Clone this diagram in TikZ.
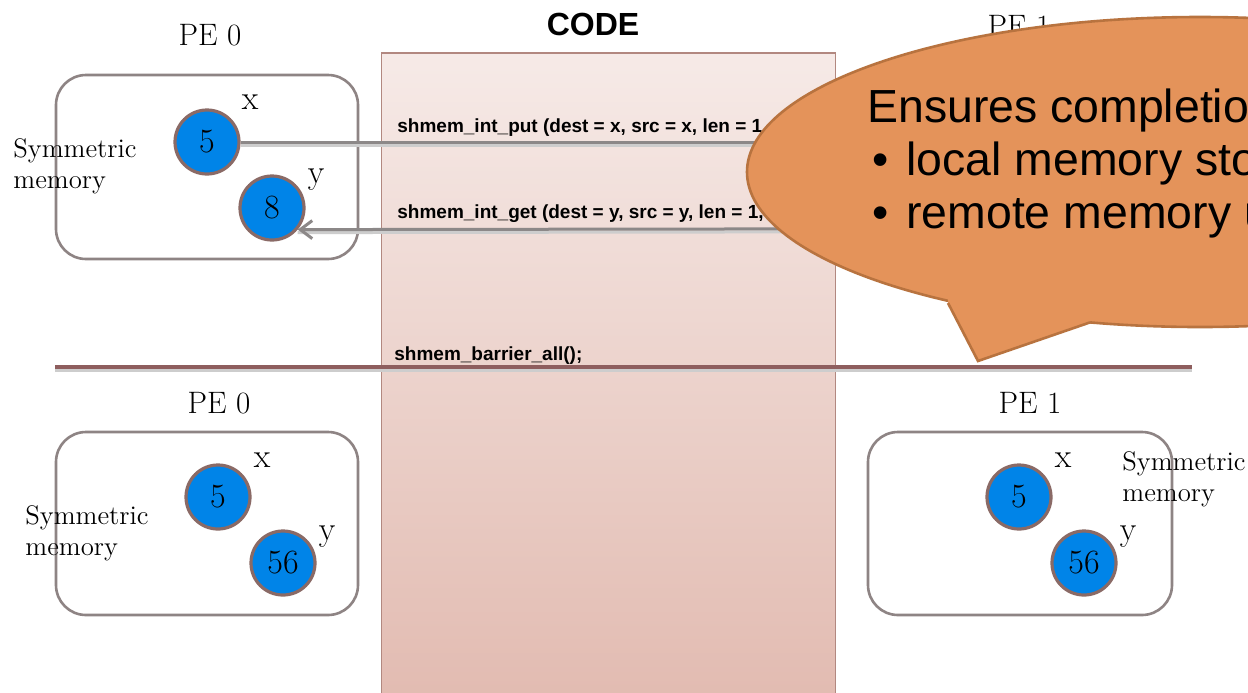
\documentclass[tikz,border=0pt]{standalone}
\usepackage{fontspec}
\setsansfont{Liberation Sans}
\usetikzlibrary{arrows.meta}
\definecolor{pblue}{RGB}{0,132,232}
\definecolor{varborder}{RGB}{138,106,102}
\definecolor{boxgray}{RGB}{142,132,132}
\definecolor{calfill}{RGB}{228,147,90}
\definecolor{calborder}{RGB}{184,115,63}
\definecolor{codetop}{RGB}{246,234,231}
\definecolor{codebot}{RGB}{226,187,177}
\definecolor{codeborder}{RGB}{178,136,128}
\definecolor{linkgray}{RGB}{140,136,136}
\definecolor{shadowgray}{RGB}{205,205,205}
\definecolor{barriercol}{RGB}{142,94,94}
\begin{document}
\begin{tikzpicture}[x=0.5pt,y=-0.5pt,
  membox/.style={draw=boxgray,line width=1.3pt,rounded corners=15pt,minimum width=151pt,minimum height=92pt,inner sep=0pt},
  var/.style={circle,draw=varborder,fill=pblue,line width=1.6pt,minimum size=32pt,inner sep=0pt,font=\fontsize{17}{18}\selectfont},
  vname/.style={font=\fontsize{17}{18}\selectfont,inner sep=0pt},
  pelabel/.style={font=\fontsize{15.5}{18}\selectfont,inner sep=0pt},
  symlabel/.style={font=\fontsize{13.4}{15.5}\selectfont,align=left,inner sep=0pt,anchor=west},
  codetext/.style={font=\sffamily\bfseries\fontsize{9.5}{11}\selectfont,inner sep=0pt,anchor=base west},
  link/.style={draw=linkgray,line width=1.5pt},
  linkshadow/.style={draw=shadowgray,line width=1.5pt,transform canvas={yshift=-1.5pt}},
  barrier/.style={draw=barriercol,line width=2pt},
  caltext/.style={font=\sffamily\fontsize{23.2}{26}\selectfont,inner sep=0pt,anchor=base west}]
\useasboundingbox (0,0) rectangle (1248,692);
\clip (0,0) rectangle (1248,692);
\fill[white] (0,0) rectangle (1248,692);

% code column
\node[draw=codeborder,line width=0.8pt,top color=codetop,bottom color=codebot,minimum width=227pt,minimum height=324pt,inner sep=0pt] (code) at (608.5,377) {};
\node[font=\sffamily\bfseries\fontsize{16}{18}\selectfont,inner sep=0pt] (codetitle) at (593,24) {CODE};
\node[codetext] (put) at (397,132) {shmem\_int\_put (dest = x, src = x, len = 1};
\node[codetext] (get) at (397,218) {shmem\_int\_get (dest = y, src = y, len = 1, p};
\node[codetext] (bar) at (394,360) {shmem\_barrier\_all();};

% top PE 0
\node[pelabel] (pe0t) at (210,35) {PE 0};
\node[membox] (box0t) at (207,167) {};
\node[symlabel] (sym0t) at (13,166) {Symmetric\\memory};
\node[var] (x0t) at (207,142) {5};
\node[vname] (xl0t) at (250,102) {x};
\node[var] (y0t) at (272,208) {8};
\node[vname] (yl0t) at (316,180) {y};

% top PE 1 (mostly hidden)
\node[pelabel] (pe1t) at (1019,26) {PE 1};

% connectors
\coordinate (putend) at (1000,142);
\coordinate (getstart) at (1000,228.6);
\draw[linkshadow] (x0t.east) -- (putend);
\draw[link] (x0t.east) -- (putend);
\draw[linkshadow] (getstart) -- (y0t.-40);
\draw[link,-{Straight Barb[length=6pt,width=9pt,line width=1.5pt]}] (getstart) -- (y0t.-40);

% barrier line
\coordinate (bl) at (55,367);
\coordinate (br) at (1192,367);
\draw[draw=shadowgray,line width=2pt,transform canvas={yshift=-1.5pt}] (bl) -- (br);
\draw[barrier] (bl) -- (br);

% bottom PE 0
\node[pelabel] (pe0b) at (219,403) {PE 0};
\node[membox,minimum height=91.5pt] (box0b) at (207,523.5) {};
\node[symlabel] (sym0b) at (25,533) {Symmetric\\memory};
\node[var] (x0b) at (218,497) {5};
\node[vname] (xl0b) at (262,460) {x};
\node[var] (y0b) at (283,563) {56};
\node[vname] (yl0b) at (327,537) {y};

% bottom PE 1
\node[pelabel] (pe1b) at (1030,403) {PE 1};
\node[membox,minimum width=152pt,minimum height=91.5pt] (box1b) at (1020,523.5) {};
\node[var] (x1b) at (1019,497) {5};
\node[vname] (xl1b) at (1063,460) {x};
\node[var] (y1b) at (1084,563) {56};
\node[vname] (yl1b) at (1128,537) {y};
\node[symlabel] (sym1b) at (1122,479) {Symmetric\\memory};

% callout
\draw[fill=calfill,draw=calborder,line width=1.3pt] (1200,172) ellipse [x radius=226.5pt, y radius=77.5pt];
\fill[calfill] (948,303) -- (978,361) -- (1090,322.4) -- (1090,298) -- (948,288) -- cycle;
\draw[calborder,line width=1.3pt,line join=miter] (948,303) -- (978,361) -- (1090,322.4);
\node[caltext] (c1) at (867,122) {Ensures completion};
\node[caltext] (c2) at (872,175) {\makebox[17pt][l]{•}local memory sto};
\node[caltext] (c3) at (872,228) {\makebox[17pt][l]{•}remote memory u};
\end{tikzpicture}
\end{document}
